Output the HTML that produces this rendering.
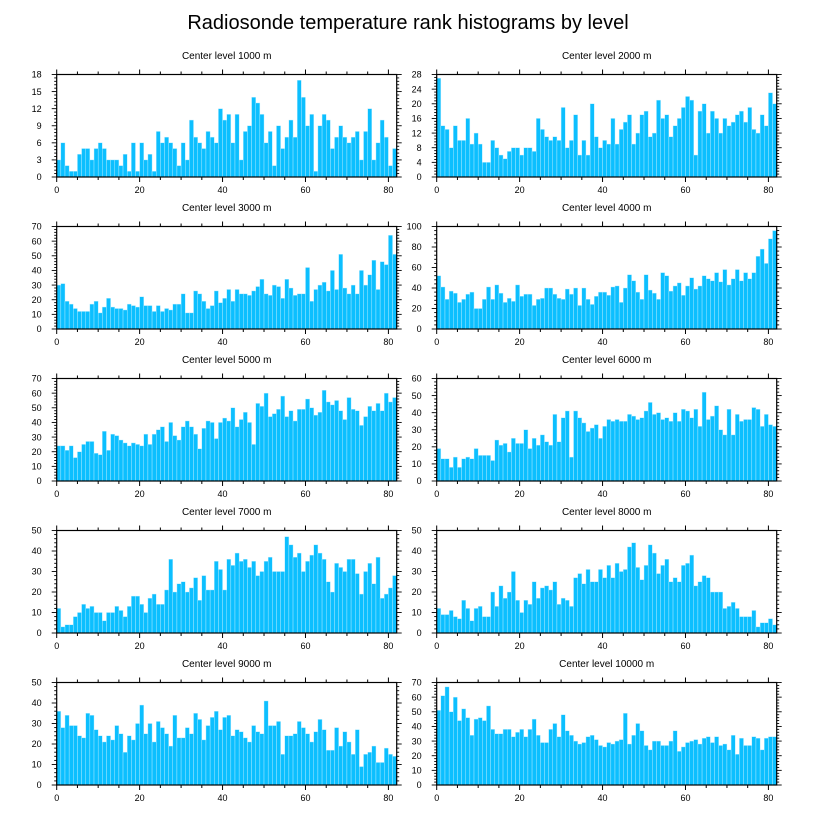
<!DOCTYPE html>
<html><head><meta charset="utf-8"><style>
html,body{margin:0;padding:0;background:#fff;}
svg{display:block;font-family:"Liberation Sans",sans-serif;}
</style></head><body>
<svg id="chart" width="816" height="824" viewBox="0 0 816 824">
<text x="408" y="29" text-anchor="middle" font-size="20">Radiosonde temperature rank histograms by level</text>
</svg>
<script>
const levels = ["1000","2000","3000","4000","5000","6000","7000","8000","9000","10000"];
const yMax = [18,28,70,100,70,60,50,50,50,70];
const yStep = [3,4,10,20,10,10,10,10,10,10];
const xTicks = [0,20,40,60,80];
const v1000 = [3,6,2,1,1,4,5,5,3,5,6,5,3,3,3,2,4,1,6,1,6,3,4,1,8,6,7,6,5,2,6,3,10,7,6,5,8,7,6,12,10,11,6,11,3,8,9,14,13,11,6,8,2,9,5,7,10,7,17,14,9,11,1,9,11,10,5,7,9,7,6,7,8,3,8,12,3,6,10,7,2,5];
const v2000 = [27,14,13,8,14,10,10,16,9,12,9,4,4,10,8,6,5,7,8,8,6,8,8,7,16,13,11,10,11,10,19,8,10,17,6,10,6,20,11,8,10,9,16,9,13,15,17,9,12,17,18,11,12,21,16,17,11,14,16,19,22,21,6,18,20,12,18,16,12,16,14,15,17,18,15,19,13,12,17,14,23,20];
const v3000 = [30,31,19,17,14,12,12,12,17,19,11,15,21,15,14,14,13,17,16,15,22,16,16,12,16,12,14,13,17,17,24,11,11,26,24,19,14,16,26,18,21,27,19,27,24,24,23,26,29,34,24,23,30,29,21,34,28,23,24,24,42,19,27,30,32,26,40,27,51,28,24,30,24,40,30,37,47,27,46,44,64,51];
const v4000 = [52,41,29,37,35,26,29,34,36,20,20,29,41,29,43,35,26,30,27,43,32,34,34,23,29,30,40,40,34,30,29,39,34,40,23,40,29,24,32,36,36,33,41,42,26,40,53,47,36,29,53,38,35,29,55,52,37,42,45,33,42,50,39,42,52,49,47,55,46,58,43,49,58,47,55,49,55,71,78,64,88,96];
const v5000 = [24,24,21,24,16,20,25,27,27,19,18,34,21,32,31,28,26,24,26,25,24,32,25,32,35,37,27,40,31,28,37,41,37,32,22,36,41,40,29,40,43,41,50,37,42,47,40,25,53,51,60,44,46,49,58,44,48,41,49,49,56,50,45,47,62,54,52,55,48,42,57,49,48,38,44,51,48,53,48,60,54,57];
const v6000 = [19,13,13,8,14,8,13,14,13,19,15,15,15,12,24,21,22,17,25,22,22,30,19,25,21,27,23,21,39,23,37,41,14,41,37,34,29,31,33,25,32,36,35,36,35,35,39,38,36,37,41,46,39,40,36,37,35,40,35,42,41,37,42,32,52,36,38,44,30,27,42,27,39,35,36,36,43,42,32,39,33,32];
const v7000 = [12,3,4,4,8,10,14,12,13,10,10,6,10,10,13,11,8,13,18,18,14,10,17,19,14,14,21,36,20,24,25,20,22,27,16,28,21,21,35,31,21,36,33,39,35,36,32,35,28,30,35,37,30,30,30,47,43,37,39,30,35,38,43,39,36,25,20,34,32,30,36,36,29,19,30,34,24,37,17,19,22,28];
const v8000 = [12,9,9,11,8,7,16,12,6,12,13,8,8,20,13,23,17,20,30,16,10,16,14,25,17,22,23,21,25,14,17,16,13,27,29,24,31,25,25,31,27,33,27,34,30,31,42,44,32,26,33,43,39,29,33,36,25,27,25,33,34,38,23,25,28,27,20,20,20,12,13,15,12,8,8,8,11,3,5,5,7,4];
const v9000 = [36,28,34,29,29,24,23,35,34,27,24,21,24,22,29,25,16,24,22,30,39,25,30,21,31,28,25,19,34,23,23,28,25,35,32,22,29,33,36,27,33,34,24,27,26,23,21,29,26,25,41,29,29,31,15,24,24,25,31,28,25,21,26,32,27,17,17,28,19,26,21,15,27,9,15,16,19,11,11,18,15,14];
const v10000 = [51,61,67,50,60,44,52,46,34,45,46,44,54,38,35,35,38,38,33,36,38,33,38,45,34,29,29,38,42,33,48,37,34,30,28,29,33,34,31,27,26,29,28,30,31,49,28,34,42,37,27,24,30,30,27,27,30,37,23,26,29,30,31,28,32,33,29,33,27,28,24,34,21,32,27,27,33,32,24,32,33,33];
const series = [v1000,v2000,v3000,v4000,v5000,v6000,v7000,v8000,v9000,v10000];

const NS = "http://www.w3.org/2000/svg";
const svg = document.getElementById("chart");
function mk(tag, attrs, parent){const e=document.createElementNS(NS,tag);for(const k in attrs)e.setAttribute(k,attrs[k]);parent.appendChild(e);return e;}
const PW=340, PH=102.5, XMAX=82;
for(let p=0;p<10;p++){
  const col=p%2, row=Math.floor(p/2);
  const x0 = col===0?56.7:436.7, y0 = 74.5+row*152;
  const g = mk("g",{},svg);
  
  
  const sx = v => x0 + v/XMAX*PW;
  const sy = v => y0 + PH - v/yMax[p]*PH;
  const t = mk("text",{x:x0+PW/2,y:y0-15.5,"text-anchor":"middle","font-size":"10"},g);
  t.textContent = "Center level "+levels[p]+" m";
  
  
  const vals = series[p];
  for(let i=0;i<vals.length;i++){
    const r = mk("rect",{x:sx(i),y:sy(vals[i]),width:sx(i+1)-sx(i),height:sy(0)-sy(vals[i]),fill:"#0cbfff",stroke:"#bfeeff","stroke-width":"0.4"},g);
    
    
  }
  const fr = mk("rect",{x:x0,y:y0,width:PW,height:PH,fill:"none",stroke:"#000","stroke-width":"1.2"},g);
  
  
  // x ticks
  for(let v=0; v<=XMAX; v+=5){
    const major = v%20===0, L = major?5:3;
    mk("line",{x1:sx(v),x2:sx(v),y1:y0,y2:y0-L,stroke:"#000","stroke-width":"1"},g);
    mk("line",{x1:sx(v),x2:sx(v),y1:y0+PH,y2:y0+PH+L,stroke:"#000","stroke-width":"1"},g);
  }
  xTicks.forEach(v=>{
    const l = mk("text",{x:sx(v),y:y0+PH+16,"text-anchor":"middle","font-size":"9"},g);
    l.textContent = v;
    
    
  });
  // y ticks
  const minor = yStep[p]/5;
  for(let k=0; k*minor<=yMax[p]+1e-9; k++){
    const v=k*minor, major = k%5===0, L = major?5:2.5;
    mk("line",{x1:x0,x2:x0-L,y1:sy(v),y2:sy(v),stroke:"#000","stroke-width":"0.9"},g);
    mk("line",{x1:x0+PW,x2:x0+PW+L,y1:sy(v),y2:sy(v),stroke:"#000","stroke-width":"0.9"},g);
  }
  for(let v=0; v<=yMax[p]; v+=yStep[p]){
    const l = mk("text",{x:x0-15,y:sy(v)+3.2,"text-anchor":"end","font-size":"9"},g);
    l.textContent = v;
    
    
  }
}
</script>
</body></html>
